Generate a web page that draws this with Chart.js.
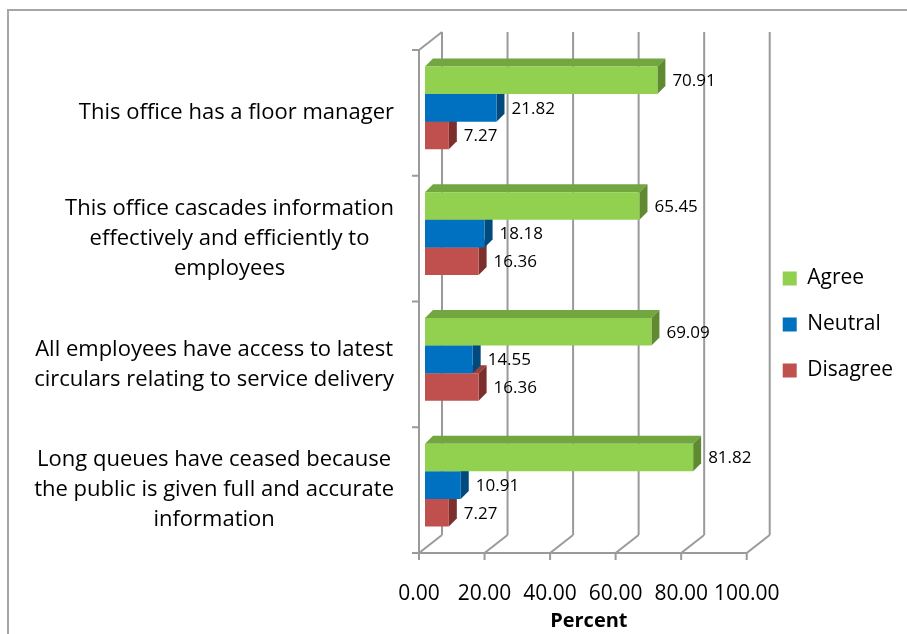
<!DOCTYPE html>
<html>
<head>
<meta charset="utf-8">
<script src="https://cdn.jsdelivr.net/npm/chart.js@4.4.0/dist/chart.umd.min.js"></script>
<style>
  html, body { margin: 0; padding: 0; background: #fff; }
  #wrap { position: relative; width: 907px; height: 634px; }
</style>
</head>
<body>
<div id="wrap"><canvas id="surveyChart" width="907" height="634"></canvas></div>
<script>
// ========== DATOS ==========
const categories = [
  ["This office has a floor manager"],
  ["This office cascades information", "effectively and efficiently to", "employees"],
  ["All employees have access to latest", "circulars relating to service delivery"],
  ["Long queues have ceased because", "the public is given full and accurate", "information"]
];
const agree = [70.91, 65.45, 69.09, 81.82];
const neutral = [21.82, 18.18, 14.55, 10.91];
const disagree = [7.27, 16.36, 16.36, 7.27];
const seriesNames = ["Agree", "Neutral", "Disagree"];

// desplazamientos del efecto 3D (planos frontal y trasero respecto al plano de las barras)
const FRONT = { dx: -6, dy: 5 };
const BACK = { dx: 17, dy: -13 };
const BAR_DEPTH = 8;
const FONT = "'Open Sans'";

// ========== PLUGIN 3D ==========
const frame3d = {
  id: "frame3d",
  beforeDraw(chart) {
    const ctx = chart.ctx;
    ctx.save();
    ctx.fillStyle = "#a6a6a6";
    ctx.fillRect(7, 9, chart.width - 7, 2);
    ctx.fillRect(7, 9, 2, chart.height - 9);
    ctx.restore();
  },
  afterLayout(chart) {
    const lg = chart.legend;
    lg.top -= 15;
    lg.bottom -= 15;
    lg.left += 5;
    lg.right += 5;
  },
  beforeDatasetsDraw(chart) {
    const { ctx, chartArea: a, scales: { x, y } } = chart;
    const n = chart.data.labels.length;
    const band = (a.bottom - a.top) / n;
    const x0 = x.getPixelForValue(0) + FRONT.dx;
    const x100 = x.getPixelForValue(100) + FRONT.dx;
    const floorY = a.bottom + FRONT.dy;

    ctx.save();
    ctx.strokeStyle = "#9a9a9a";
    ctx.lineWidth = 2;
    ctx.lineCap = "butt";

    const seg = (x1, y1, x2, y2) => {
      ctx.beginPath();
      ctx.moveTo(x1, y1);
      ctx.lineTo(x2, y2);
      ctx.stroke();
    };

    x.ticks.forEach(t => {
      const px = x.getPixelForValue(t.value);
      seg(px + BACK.dx, a.top + BACK.dy, px + BACK.dx, a.bottom + BACK.dy);
      seg(px + BACK.dx, a.bottom + BACK.dy, px + FRONT.dx, floorY);
      seg(px + FRONT.dx, floorY, px + FRONT.dx, floorY + 7);
    });
    seg(x0, floorY, x100, floorY);

    // pared izquierda
    seg(x0, floorY, x0, a.top + FRONT.dy);
    seg(x0, a.top + FRONT.dy, x.getPixelForValue(0) + BACK.dx, a.top + BACK.dy);
    for (let i = 0; i < n; i++) {
      const py = y.getPixelForValue(i) - band / 2 + FRONT.dy;
      seg(x0 - 7, py, x0, py);
    }
    seg(x0 - 7, floorY, x0, floorY);
    ctx.restore();
  },
  beforeDatasetDraw(chart, args) {
    const ds = chart.data.datasets[args.index];
    const ctx = chart.ctx;
    const d = BAR_DEPTH;
    ctx.save();
    args.meta.data.forEach(bar => {
      const { x, y, base, height } = bar.getProps(["x", "y", "base", "height"], true);
      const top = y - height / 2;
      const bottom = y + height / 2;
      ctx.fillStyle = ds.topColor;
      ctx.beginPath();
      ctx.moveTo(base, top);
      ctx.lineTo(x, top);
      ctx.lineTo(x + d, top - d);
      ctx.lineTo(base + d, top - d);
      ctx.closePath();
      ctx.fill();
      ctx.fillStyle = ds.sideColor;
      ctx.beginPath();
      ctx.moveTo(x, top);
      ctx.lineTo(x + d, top - d);
      ctx.lineTo(x + d, bottom - d);
      ctx.lineTo(x, bottom);
      ctx.closePath();
      ctx.fill();
    });
    ctx.restore();
  },
  afterDatasetsDraw(chart) {
    const ctx = chart.ctx;
    ctx.save();
    ctx.font = `17px ${FONT}`;
    ctx.fillStyle = "#000";
    ctx.textAlign = "left";
    ctx.textBaseline = "middle";
    chart.data.datasets.forEach((ds, i) => {
      chart.getDatasetMeta(i).data.forEach((bar, j) => {
        ctx.fillText(ds.data[j].toFixed(2), bar.x + BAR_DEPTH + 7, bar.y + 1);
      });
    });
    ctx.restore();
  },
  afterDraw(chart) {
    const { ctx, chartArea: a, scales: { y } } = chart;
    const right = a.left + FRONT.dx - 25;
    ctx.save();
    ctx.font = `22px ${FONT}`;
    ctx.fillStyle = "#000";
    ctx.textAlign = "center";
    ctx.textBaseline = "middle";
    chart.data.labels.forEach((lines, i) => {
      const w = Math.max(...lines.map(l => ctx.measureText(l).width));
      const cx = right - w / 2;
      const cy = y.getPixelForValue(i) + FRONT.dy;
      lines.forEach((l, k) => {
        ctx.fillText(l, cx, cy + (k - (lines.length - 1) / 2) * 30);
      });
    });
    ctx.restore();
  }
};

// ========== GRÁFICO ==========
const ctx = document.getElementById("surveyChart").getContext("2d");
new Chart(ctx, {
  type: "bar",
  data: {
    labels: categories,
    datasets: [
      { label: seriesNames[0], data: agree, backgroundColor: "#92D050", topColor: "#72a640", sideColor: "#5f8a32", order: 0 },
      { label: seriesNames[1], data: neutral, backgroundColor: "#0070C0", topColor: "#005a9a", sideColor: "#004a7e", order: 1 },
      { label: seriesNames[2], data: disagree, backgroundColor: "#C0504D", topColor: "#9c3e3b", sideColor: "#7b302e", order: 2 }
    ]
  },
  options: {
    responsive: false,
    animation: false,
    indexAxis: "y",
    layout: { padding: { top: 45, right: 9, bottom: 0, left: 0 } },
    datasets: { bar: { barPercentage: 1, categoryPercentage: 0.66, borderWidth: 0 } },
    scales: {
      x: {
        min: 0,
        max: 100,
        grid: { display: false },
        border: { display: false },
        ticks: {
          stepSize: 20,
          autoSkip: false,
          maxRotation: 0,
          padding: 25,
          labelOffset: -6,
          color: "#000",
          font: { family: FONT, size: 21 },
          callback: v => Number(v).toFixed(2)
        },
        title: {
          display: true,
          text: "Percent",
          color: "#000",
          font: { family: FONT, size: 20, weight: "bold" },
          padding: { top: 0, bottom: 1 }
        },
        afterFit: s => { s.height = 86; }
      },
      y: {
        grid: { display: false },
        border: { display: false },
        ticks: { display: false },
        afterFit: s => { s.width = 425; }
      }
    },
    plugins: {
      legend: {
        position: "right",
        labels: {
          boxWidth: 14,
          boxHeight: 14,
          padding: 25,
          color: "#000",
          font: { family: FONT, size: 21 }
        }
      },
      tooltip: { enabled: false }
    }
  },
  plugins: [frame3d]
});
</script>
</body>
</html>
